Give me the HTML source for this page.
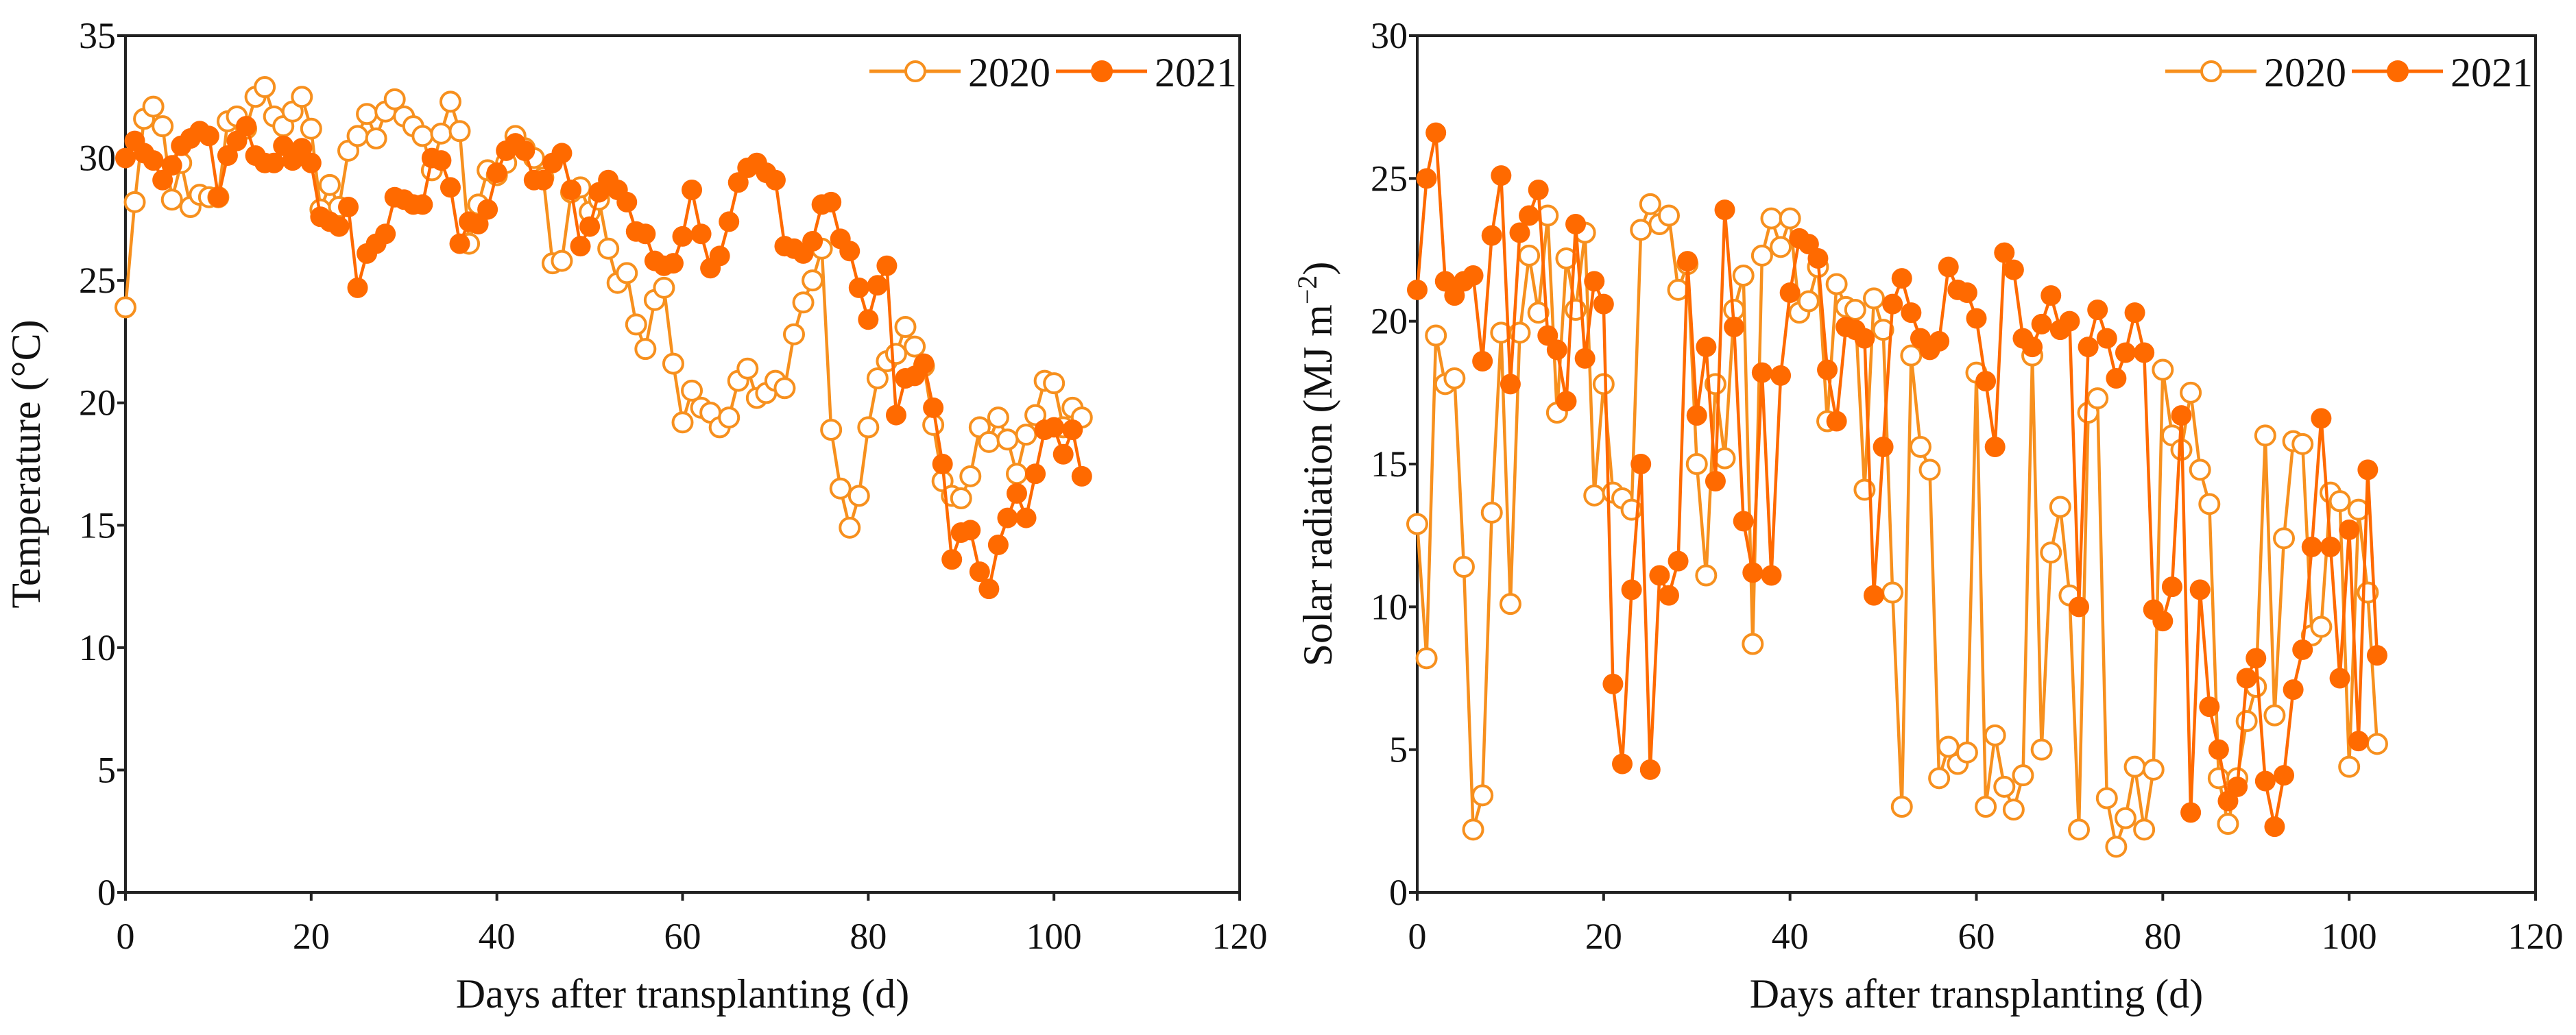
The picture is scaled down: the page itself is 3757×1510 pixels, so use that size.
<!DOCTYPE html>
<html><head><meta charset="utf-8"><style>
html,body{margin:0;padding:0;background:#fff;}
svg{display:block;font-family:"Liberation Serif",serif;}
</style></head><body>
<svg id="chart" width="3757" height="1510" viewBox="0 0 3757 1510" xmlns="http://www.w3.org/2000/svg">
<rect width="3757" height="1510" fill="#fff"/>
</svg>
<script>
const days = Array.from({length:104},(_,i)=>i);
const xTicks = [0,20,40,60,80,100,120];
const tempTicks = [0,5,10,15,20,25,30,35];
const solarTicks = [0,5,10,15,20,25,30];
const seriesLabels = ["2020","2021"];
const temp2020 = [23.9,28.2,31.6,32.1,31.3,28.3,29.8,28.0,28.5,28.4,28.4,31.5,31.7,31.2,32.5,32.9,31.7,31.3,31.9,32.5,31.2,27.9,28.9,28.0,30.3,30.9,31.8,30.8,31.9,32.4,31.7,31.3,30.9,29.5,31.0,32.3,31.1,26.5,28.1,29.5,29.3,29.8,30.9,30.4,30.0,29.2,25.7,25.8,28.6,28.8,27.8,28.3,26.3,24.9,25.3,23.2,22.2,24.2,24.7,21.6,19.2,20.5,19.8,19.6,19.0,19.4,20.9,21.4,20.2,20.4,20.9,20.6,22.8,24.1,25.0,26.3,18.9,16.5,14.9,16.2,19.0,21.0,21.7,22.0,23.1,22.3,21.5,19.1,16.8,16.2,16.1,17.0,19.0,18.4,19.4,18.5,17.1,18.7,19.5,20.9,20.8,19.0,19.8,19.4];
const temp2021 = [30.0,30.7,30.2,29.9,29.1,29.7,30.5,30.8,31.1,30.9,28.4,30.1,30.7,31.3,30.1,29.8,29.8,30.5,29.9,30.4,29.8,27.6,27.4,27.2,28.0,24.7,26.1,26.5,26.9,28.4,28.3,28.1,28.1,30.0,29.9,28.8,26.5,27.4,27.3,27.9,29.4,30.3,30.6,30.3,29.1,29.1,29.8,30.2,28.7,26.4,27.2,28.6,29.1,28.7,28.2,27.0,26.9,25.8,25.6,25.7,26.8,28.7,26.9,25.5,26.0,27.4,29.0,29.6,29.8,29.4,29.1,26.4,26.3,26.1,26.6,28.1,28.2,26.7,26.2,24.7,23.4,24.8,25.6,19.5,21.0,21.1,21.6,19.8,17.5,13.6,14.7,14.8,13.1,12.4,14.2,15.3,16.3,15.3,17.1,18.9,19.0,17.9,18.9,17.0];
const solar2020 = [12.9,8.2,19.5,17.8,18.0,11.4,2.2,3.4,13.3,19.6,10.1,19.6,22.3,20.3,23.7,16.8,22.2,20.4,23.1,13.9,17.8,14.0,13.8,13.4,23.2,24.1,23.4,23.7,21.1,22.0,15.0,11.1,17.8,15.2,20.4,21.6,8.7,22.3,23.6,22.6,23.6,20.3,20.7,21.9,16.5,21.3,20.5,20.4,14.1,20.8,19.7,10.5,3.0,18.8,15.6,14.8,4.0,5.1,4.5,4.9,18.2,3.0,5.5,3.7,2.9,4.1,18.8,5.0,11.9,13.5,10.4,2.2,16.8,17.3,3.3,1.6,2.6,4.4,2.2,4.3,18.3,16.0,15.5,17.5,14.8,13.6,4.0,2.4,4.0,6.0,7.2,16.0,6.2,12.4,15.8,15.7,9.0,9.3,14.0,13.7,4.4,13.4,10.5,5.2];
const solar2021 = [21.1,25.0,26.6,21.4,20.9,21.4,21.6,18.6,23.0,25.1,17.8,23.1,23.7,24.6,19.5,19.0,17.2,23.4,18.7,21.4,20.6,7.3,4.5,10.6,15.0,4.3,11.1,10.4,11.6,22.1,16.7,19.1,14.4,23.9,19.8,13.0,11.2,18.2,11.1,18.1,21.0,22.9,22.7,22.2,18.3,16.5,19.8,19.7,19.4,10.4,15.6,20.6,21.5,20.3,19.4,19.0,19.3,21.9,21.1,21.0,20.1,17.9,15.6,22.4,21.8,19.4,19.1,19.9,20.9,19.7,20.0,10.0,19.1,20.4,19.4,18.0,18.9,20.3,18.9,9.9,9.5,10.7,16.7,2.8,10.6,6.5,5.0,3.2,3.7,7.5,8.2,3.9,2.3,4.1,7.1,8.5,12.1,16.6,12.1,7.5,12.7,5.3,14.8,8.3];

const NS="http://www.w3.org/2000/svg";
const svg=document.getElementById('chart');
const C20="#f7901e", C21="#ff6a00";
function mk(tag,attrs,parent){const e=document.createElementNS(NS,tag);for(const k in attrs)e.setAttribute(k,attrs[k]);(parent||svg).appendChild(e);return e;}

function drawPanel(p){
  const g=mk('g',{});
  
  
  const xs=v=>p.x0+(v-0)/(120-0)*(p.x1-p.x0);
  const ys=v=>p.y1-(v-0)/(p.ymax-0)*(p.y1-p.y0);
  // frame
  const fr=mk('rect',{x:p.x0,y:p.y0,width:p.x1-p.x0,height:p.y1-p.y0,fill:'none',stroke:'#222','stroke-width':4},g);
  
  
  // x ticks
  xTicks.forEach(t=>{
    const X=xs(t);
    mk('line',{x1:X,y1:p.y1,x2:X,y2:p.y1+12,stroke:'#222','stroke-width':4},g);
    const tx=mk('text',{x:X,y:p.y1+82,'text-anchor':'middle','font-size':54,fill:'#111'},g);
    tx.textContent=t;
    
    
  });
  p.yTicks.forEach(t=>{
    const Y=ys(t);
    mk('line',{x1:p.x0-12,y1:Y,x2:p.x0,y2:Y,stroke:'#222','stroke-width':4},g);
    const ty=mk('text',{x:p.x0-14,y:Y+18,'text-anchor':'end','font-size':54,fill:'#111'},g);
    ty.textContent=t;
    
    
  });
  const xt=mk('text',{x:(p.x0+p.x1)/2,y:1470,'text-anchor':'middle','font-size':60,fill:'#111'},g);
  xt.textContent='Days after transplanting (d)';
  
  
  const yt=mk('text',{x:0,y:0,'text-anchor':'middle','font-size':60,fill:'#111',transform:`translate(${p.x0-125},${(p.y0+p.y1)/2}) rotate(-90)`},g);
  yt.innerHTML=p.ytitle;
  
  
  // series
  [[p.s20,C20,false],[p.s21,C21,true]].forEach(([vals,col,filled],si)=>{
    const sg=mk('g',{},g);
    
    
    const pts=vals.map((v,i)=>xs(days[i]).toFixed(1)+','+ys(v).toFixed(1)).join(' ');
    const pl=mk('polyline',{points:pts,fill:'none',stroke:col,'stroke-width':4.5,'stroke-linejoin':'round'},sg);
    
    
    vals.forEach((v,i)=>{
      const c=mk('circle',{cx:xs(days[i]),cy:ys(v),r:filled?15:14,fill:filled?col:'#fff',stroke:col,'stroke-width':filled?0:4},sg);
      
      
    });
  });
  // legend
  const lg=mk('g',{},g);
  
  
  const L=p.x1-540, LY=p.y0+52;
  [[C20,false,0],[C21,true,272]].forEach(([col,filled,off],i)=>{
    const e=mk('g',{},lg);
    
    
    mk('line',{x1:L+off,y1:LY,x2:L+off+133,y2:LY,stroke:col,'stroke-width':5},e);
    mk('circle',{cx:L+off+67,cy:LY,r:filled?16:14,fill:filled?col:'#fff',stroke:col,'stroke-width':filled?0:4},e);
    const t=mk('text',{x:L+off+144,y:LY+22,'font-size':60,fill:'#111'},e);
    t.textContent=seriesLabels[i];
  });
}
drawPanel({name:'temperature-panel',x0:183,x1:1808,y0:52,y1:1302,ymax:35,yTicks:tempTicks,s20:temp2020,s21:temp2021,ytitle:'Temperature (°C)'});
drawPanel({name:'solar-radiation-panel',x0:2067,x1:3698,y0:52,y1:1302,ymax:30,yTicks:solarTicks,s20:solar2020,s21:solar2021,ytitle:'Solar radiation (MJ m<tspan dy="-22" font-size="40">−2</tspan><tspan dy="22">)</tspan>'});
</script>
</body></html>
